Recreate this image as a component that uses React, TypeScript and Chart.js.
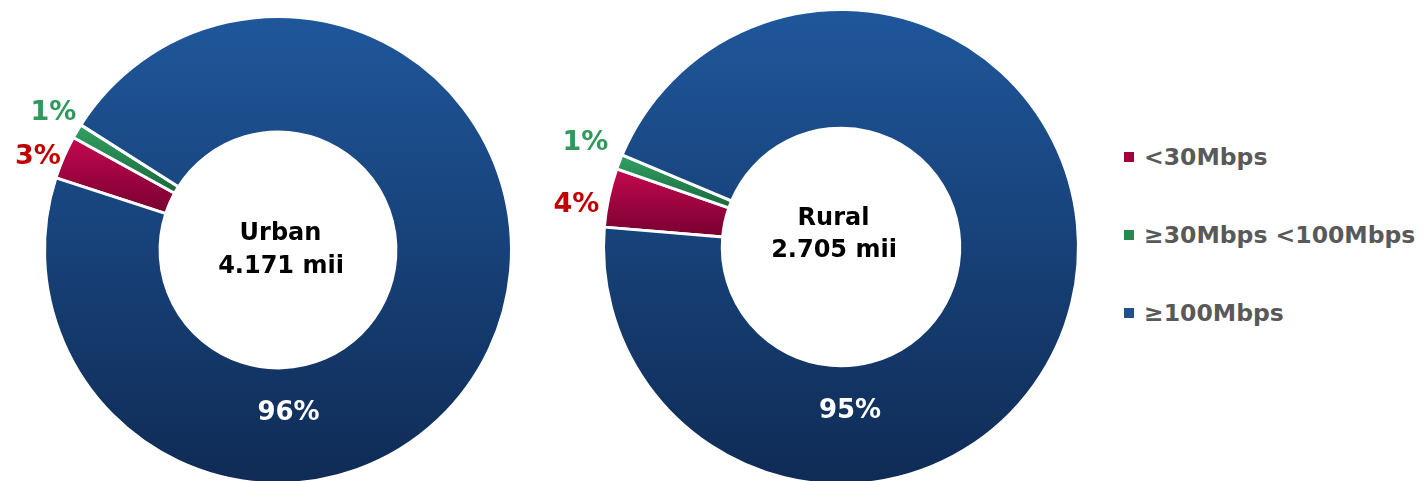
import React, { useEffect, useRef } from 'react';
import { Chart, registerables } from 'chart.js';

Chart.register(...registerables);

// ---------- data ----------
const categories = ['<30Mbps', '≥30Mbps <100Mbps', '≥100Mbps'];
const urbanValues = [3, 1, 96];
const ruralValues = [4, 1, 95];
const urbanTitle = ['Urban', '4.171 mii'];
const ruralTitle = ['Rural', '2.705 mii'];

// ---------- style ----------
const FONT = '"DejaVu Sans", Verdana, sans-serif';
const gradStops: string[][] = [
  ['#c4084f', '#770030'],
  ['#33a064', '#19693c'],
  ['#1f579b', '#0f2b55'],
];
const swatchColors = ['#a3003c', '#238b4e', '#1f4f8e'];
const labelColors = ['#c00000', '#2f9a5c', '#ffffff'];
const labelSizes = [27, 27, 26];

const gradientPlugin = {
  id: 'arcGradient',
  beforeDatasetsDraw(chart: any) {
    const ctx = chart.ctx as CanvasRenderingContext2D;
    const meta = chart.getDatasetMeta(0);
    meta.data.forEach((arc: any, i: number) => {
      const p = arc.getProps(['x', 'y', 'startAngle', 'endAngle', 'outerRadius', 'innerRadius'], true);
      let minY = Infinity;
      let maxY = -Infinity;
      for (let k = 0; k <= 90; k++) {
        const a = p.startAngle + ((p.endAngle - p.startAngle) * k) / 90;
        for (const r of [p.innerRadius, p.outerRadius]) {
          const y = p.y + Math.sin(a) * r;
          if (y < minY) minY = y;
          if (y > maxY) maxY = y;
        }
      }
      const g = ctx.createLinearGradient(0, minY, 0, maxY);
      g.addColorStop(0, gradStops[i][0]);
      g.addColorStop(1, gradStops[i][1]);
      arc.options.backgroundColor = g;
    });
  },
};

const textPlugin = {
  id: 'donutText',
  afterDatasetsDraw(chart: any, _args: any, opts: any) {
    const ctx = chart.ctx as CanvasRenderingContext2D;
    const meta = chart.getDatasetMeta(0);
    const values: number[] = chart.data.datasets[0].data;
    const first = meta.data[0];
    if (!first) return;
    const cx = first.x;
    const cy = first.y;
    ctx.save();
    ctx.textAlign = 'center';
    ctx.textBaseline = 'alphabetic';
    ctx.fillStyle = '#000000';
    ctx.font = `bold ${opts.titleSize}px ${FONT}`;
    (opts.title as string[]).forEach((line, i) => {
      const [dx, dy] = opts.titleOffsets[i];
      ctx.fillText(line, cx + dx, cy + dy);
    });
    values.forEach((v, i) => {
      const [dx, dy] = opts.labelOffsets[i];
      ctx.font = `bold ${labelSizes[i]}px ${FONT}`;
      ctx.fillStyle = labelColors[i];
      ctx.fillText(`${v}%`, cx + dx, cy + dy);
    });
    ctx.restore();
  },
};

type DonutProps = {
  values: number[];
  title: string[];
  rotation: number;
  left: number;
  top: number;
  width: number;
  height: number;
  padding: { left: number; right: number; top: number; bottom: number };
  cutout: string;
  titleOffsets: number[][];
  labelOffsets: number[][];
};

function Donut(props: DonutProps) {
  const ref = useRef<HTMLCanvasElement | null>(null);
  useEffect(() => {
    if (!ref.current) return;
    const chart = new Chart(ref.current, {
      type: 'doughnut',
      data: {
        labels: categories,
        datasets: [
          {
            data: props.values,
            backgroundColor: swatchColors,
            borderColor: '#ffffff',
            borderWidth: 3,
            hoverOffset: 0,
          },
        ],
      },
      options: {
        responsive: false,
        maintainAspectRatio: false,
        animation: false,
        devicePixelRatio: 1,
        events: [],
        rotation: props.rotation,
        cutout: props.cutout,
        layout: { padding: props.padding },
        plugins: {
          legend: { display: false },
          tooltip: { enabled: false },
          donutText: {
            title: props.title,
            titleOffsets: props.titleOffsets,
            titleSize: 24,
            labelOffsets: props.labelOffsets,
          },
        } as any,
      },
      plugins: [gradientPlugin, textPlugin],
    });
    return () => chart.destroy();
  }, []);
  return (
    <canvas
      ref={ref}
      width={props.width}
      height={props.height}
      style={{
        position: 'absolute',
        left: props.left,
        top: props.top,
        width: props.width,
        height: props.height,
      }}
    />
  );
}

export default function App() {
  return (
    <div
      style={{
        position: 'fixed',
        left: 0,
        top: 0,
        width: 1426,
        height: 481,
        overflow: 'hidden',
        background: '#ffffff',
      }}
    >
      <Donut
        values={urbanValues}
        title={urbanTitle}
        rotation={288}
        left={0}
        top={0}
        width={560}
        height={520}
        padding={{ left: 43, right: 47, top: 15, bottom: 35 }}
        cutout="50.5%"
        titleOffsets={[[2.5, -10], [3, 23]]}
        labelOffsets={[[-240, -86], [-224.5, -130], [10.5, 170]]}
      />
      <Donut
        values={ruralValues}
        title={ruralTitle}
        rotation={274.8}
        left={540}
        top={0}
        width={570}
        height={520}
        padding={{ left: 62, right: 30, top: 8, bottom: 34 }}
        cutout="50%"
        titleOffsets={[[-7.5, -22], [-7, 10]]}
        labelOffsets={[[-264.5, -35], [-255.5, -97], [9, 171]]}
      />
      {categories.map((c, i) => (
        <div
          key={c}
          style={{
            position: 'absolute',
            left: 1124,
            top: [157, 235, 313][i] - 15,
            height: 30,
            display: 'flex',
            alignItems: 'center',
            whiteSpace: 'nowrap',
          }}
        >
          <div style={{ width: 10, height: 10, background: swatchColors[i], marginRight: 10 }} />
          <span style={{ font: `bold 23.5px ${FONT}`, color: '#595959' }}>{c}</span>
        </div>
      ))}
    </div>
  );
}
